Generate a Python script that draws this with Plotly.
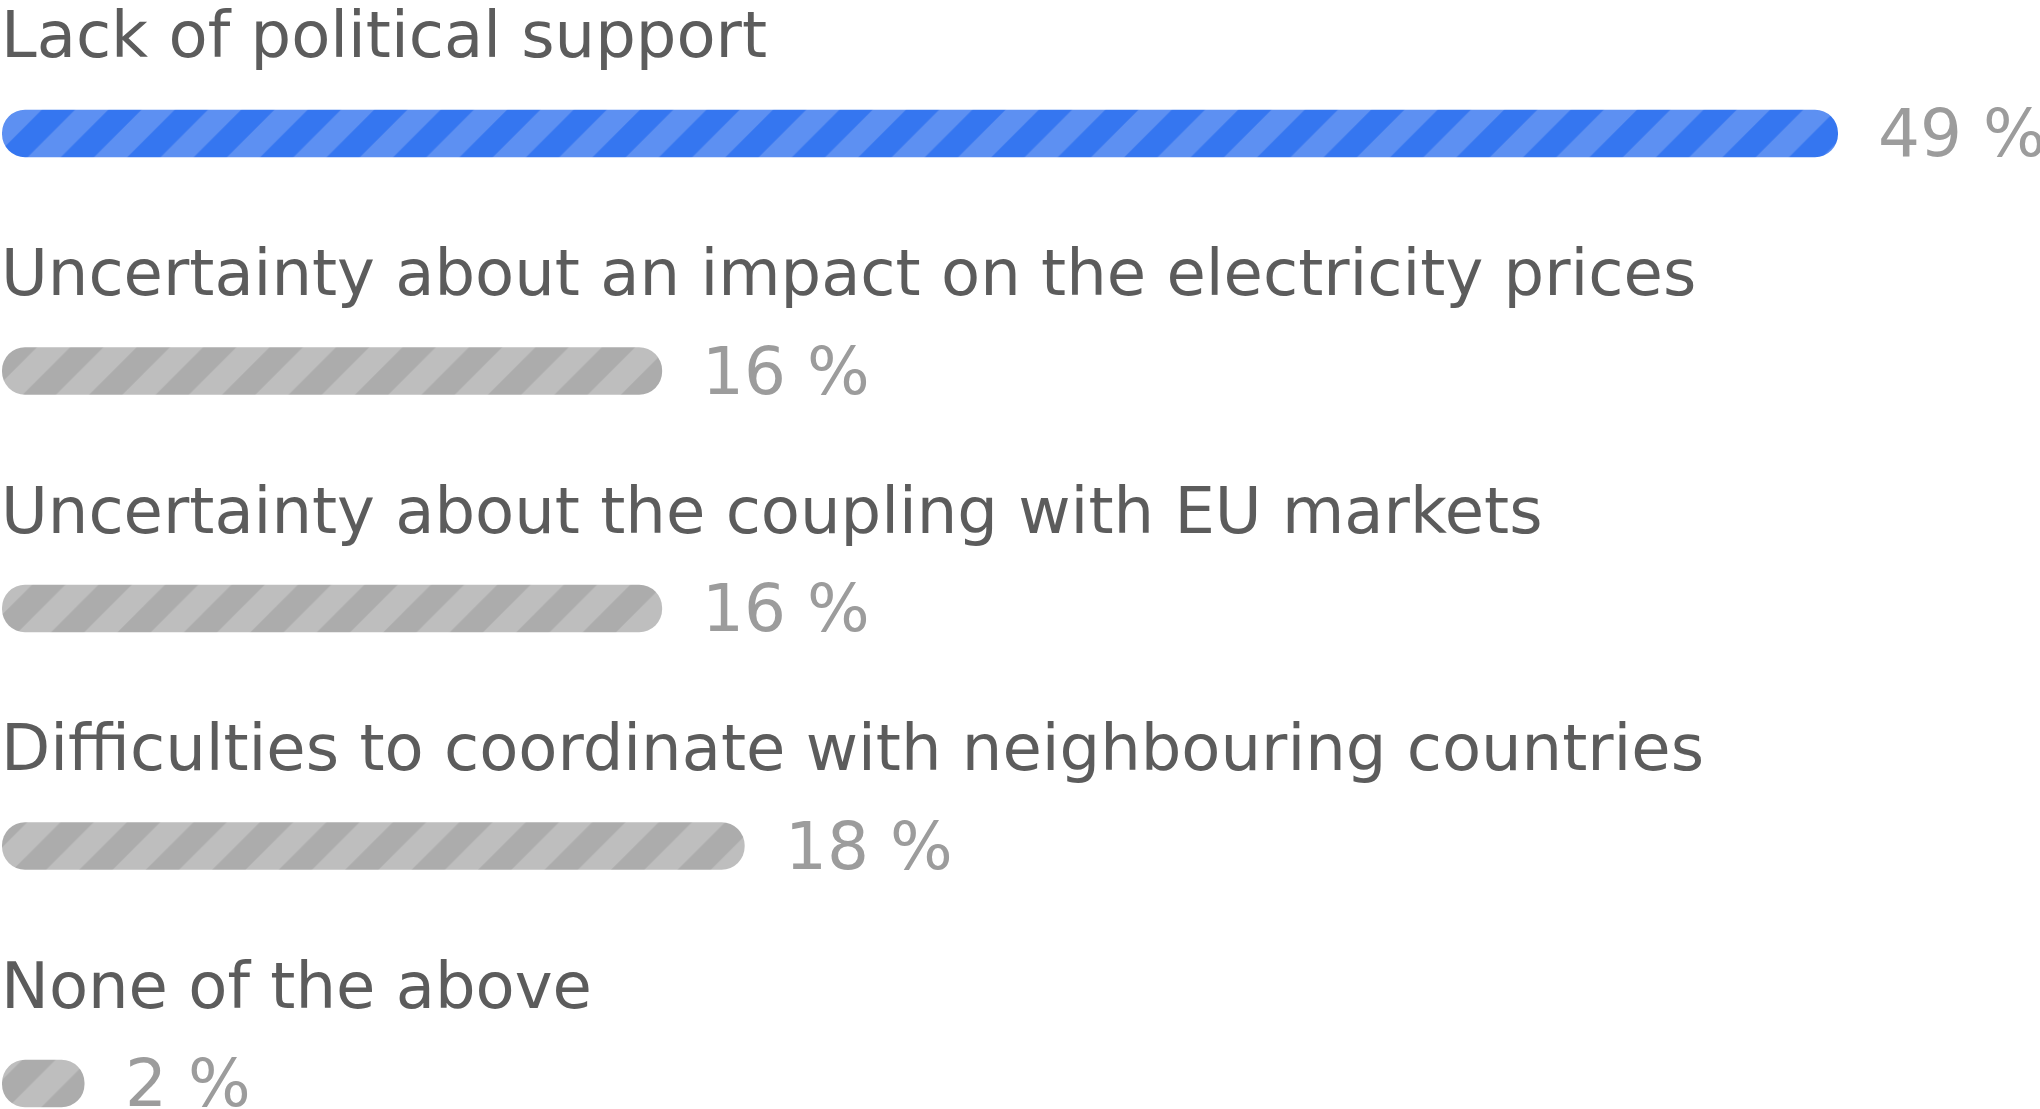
import plotly.graph_objects as go

# ---- data ----
categories = [
    "Lack of political support",
    "Uncertainty about an impact on the electricity prices",
    "Uncertainty about the coupling with EU markets",
    "Difficulties to coordinate with neighbouring countries",
    "None of the above",
]
values = [49, 16, 16, 18, 2]
highlight = [True, False, False, False, False]

# ---- styling ----
AXIS_MAX = 44.5          # value-axis maximum (bars longer than this are capped, as in the original)
FONT = "DejaVu Sans"
LABEL_COLOR = "#5c5c5c"
VALUE_COLOR = "#9c9c9c"
BLUE_BG, BLUE_FG = "#3576f0", "#5d90f2"
GRAY_BG, GRAY_FG = "#acacac", "#bebebe"

ypos = list(range(len(categories)))
shown = [min(v, AXIS_MAX) for v in values]

fig = go.Figure()
for flag, bgc, fgc in [(True, BLUE_BG, BLUE_FG), (False, GRAY_BG, GRAY_FG)]:
    xs = [s for s, h in zip(shown, highlight) if h == flag]
    ys = [y for y, h in zip(ypos, highlight) if h == flag]
    fig.add_trace(go.Bar(
        x=xs, base=[0] * len(xs), y=ys,
        orientation="h", width=0.2,
        marker=dict(
            color=bgc, line=dict(width=0), cornerradius=24,
            pattern=dict(shape="/", fgcolor=fgc, bgcolor=bgc, fgopacity=1,
                         size=47, solidity=0.5, fillmode="replace"),
        ),
        hoverinfo="skip",
    ))

annotations = []
for i, (c, v, s) in enumerate(zip(categories, values, shown)):
    annotations.append(dict(
        x=0, y=i, xref="x", yref="y", text=c, showarrow=False,
        xanchor="left", yanchor="bottom", yshift=59, xshift=-3,
        font=dict(family=FONT, size=64, color=LABEL_COLOR),
    ))
    annotations.append(dict(
        x=s, y=i, xref="x", yref="y", text=f"{v} %", showarrow=False,
        xanchor="left", yanchor="middle", xshift=38, yshift=0,
        font=dict(family=FONT, size=66, color=VALUE_COLOR),
    ))

fig.update_layout(
    width=2040, height=1109,
    margin=dict(l=2, r=202, t=0, b=0),
    paper_bgcolor="white", plot_bgcolor="white",
    showlegend=False, barmode="overlay",
    xaxis=dict(range=[0, AXIS_MAX], visible=False, fixedrange=True),
    yaxis=dict(range=[4.107, -0.562], visible=False, fixedrange=True),
    annotations=annotations,
    font=dict(family=FONT),
)

fig.write_html("out.html", config={"displayModeBar": False})
